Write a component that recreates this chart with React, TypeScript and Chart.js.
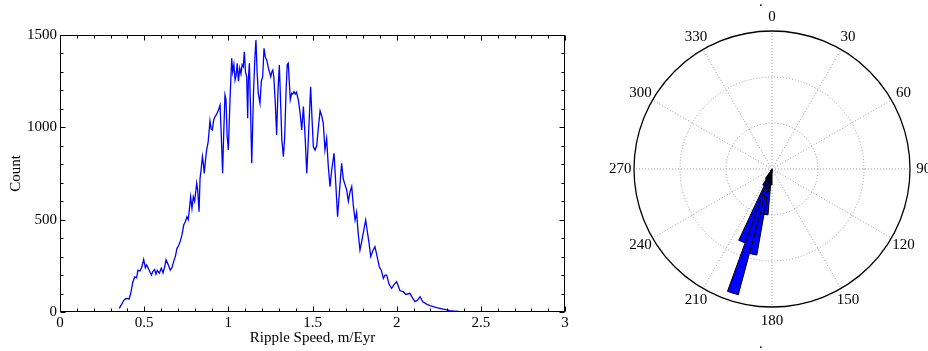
import React, { useEffect, useRef } from 'react';
import { Chart, registerables } from 'chart.js';

Chart.register(...registerables);

const FONT_FAMILY = "'Liberation Serif', 'Times New Roman', serif";

// ---- Left panel: ripple speed histogram (traced points) ----
const SPEED = [
  0.352, 0.365, 0.378, 0.39, 0.398, 0.41, 0.42, 0.432, 0.444, 0.455,
  0.463, 0.475, 0.485, 0.497, 0.507, 0.515, 0.525, 0.535, 0.543, 0.552,
  0.562, 0.57, 0.578, 0.59, 0.602, 0.612, 0.622, 0.63, 0.64, 0.655,
  0.665, 0.675, 0.685, 0.695, 0.705, 0.715, 0.725, 0.735, 0.745, 0.754,
  0.762, 0.768, 0.776, 0.784, 0.792, 0.8, 0.812, 0.818, 0.826, 0.832,
  0.838, 0.846, 0.852, 0.857, 0.864, 0.871, 0.88, 0.891, 0.898, 0.905,
  0.913, 0.921, 0.93, 0.941, 0.951, 0.958, 0.966, 0.972, 0.98, 0.986,
  0.993, 1.0, 1.01, 1.02, 1.026, 1.033, 1.04, 1.046, 1.053, 1.06,
  1.068, 1.075, 1.082, 1.089, 1.095, 1.102, 1.109, 1.115, 1.119, 1.125,
  1.132, 1.139, 1.15, 1.158, 1.164, 1.171, 1.178, 1.188, 1.196, 1.204,
  1.212, 1.22, 1.228, 1.236, 1.244, 1.252, 1.258, 1.264, 1.27, 1.278,
  1.287, 1.295, 1.303, 1.31, 1.318, 1.327, 1.335, 1.343, 1.35, 1.356,
  1.362, 1.368, 1.376, 1.383, 1.39, 1.398, 1.405, 1.416, 1.426, 1.436,
  1.446, 1.456, 1.466, 1.476, 1.489, 1.497, 1.505, 1.515, 1.525, 1.535,
  1.545, 1.555, 1.564, 1.574, 1.584, 1.594, 1.604, 1.614, 1.628, 1.638,
  1.649, 1.66, 1.673, 1.683, 1.693, 1.703, 1.713, 1.723, 1.733, 1.742,
  1.753, 1.762, 1.772, 1.782, 1.792, 1.8, 1.816, 1.825, 1.835, 1.846,
  1.858, 1.871, 1.884, 1.897, 1.909, 1.921, 1.931, 1.941, 1.955, 1.97,
  1.985, 2.0, 2.01, 2.02, 2.039, 2.055, 2.079, 2.095, 2.109, 2.125,
  2.139, 2.155, 2.178, 2.198, 2.218, 2.238, 2.257, 2.277, 2.297, 2.317,
  2.34, 2.37, 2.4, 2.45, 2.5, 2.55, 2.6, 2.65, 2.7, 2.75,
  2.8, 2.85, 2.9,
];
const COUNT = [
  20, 40, 62, 72, 74, 70, 100, 160, 190, 185,
  227, 222, 240, 285, 240, 255, 235, 215, 200, 220,
  230, 205, 225, 210, 238, 212, 245, 282, 262, 227,
  240, 273, 300, 345, 360, 385, 420, 471, 490, 516,
  500, 552, 624, 560, 624, 600, 697, 660, 543, 724,
  769, 841, 800, 751, 820, 877, 920, 1035, 990, 986,
  1040, 1058, 1070, 1094, 1121, 960, 751, 950, 1175, 1150,
  950, 877, 1150, 1374, 1300, 1340, 1256, 1280, 1347, 1250,
  1320, 1290, 1340, 1328, 1409, 1300, 1274, 1049, 1256, 1347,
  1100, 805, 1200, 1380, 1473, 1300, 1184, 1130, 1250, 1274,
  1428, 1380, 1365, 1330, 1300, 1274, 1300, 1310, 1274, 1150,
  958, 1200, 1337, 1150, 930, 841, 950, 1200, 1340, 1347,
  1250, 1150, 1184, 1180, 1193, 1180, 1190, 1148, 1080, 986,
  1112, 950, 751, 950, 1220, 1050, 895, 877, 900, 1000,
  1090, 1060, 1022, 877, 940, 787, 679, 769, 859, 700,
  516, 650, 805, 720, 690, 661, 600, 650, 679, 580,
  498, 540, 420, 336, 380, 420, 498, 440, 380, 300,
  330, 354, 300, 245, 225, 182, 200, 200, 150, 128,
  150, 164, 140, 115, 110, 95, 101, 75, 56, 65,
  83, 55, 43, 35, 29, 24, 20, 15, 11, 7,
  5, 3, 2, 2, 1, 1, 1, 1, 0.5, 0.5,
  0.5, 0.5, 0.5,
];
const X_MAJOR = [0, 0.5, 1, 1.5, 2, 2.5, 3];
const X_LABELS = ['0', '0.5', '1', '1.5', '2', '2.5', '3'];
const X_MINOR_STEP = 0.1;
const Y_MAJOR = [0, 500, 1000, 1500];
const Y_LABELS = ['0', '500', '1000', '1500'];
const Y_MINOR_STEP = 100;

// ---- Right panel: rose diagram of ripple direction (5 degree bins, clockwise from north) ----
const ROSE_BIN_DEG = 5;
const ROSE_COUNTS = [
  0, 0, 0, 0, 0, 0, 0, 0, 0, 0, 0, 0, // 0-60
  0, 0, 0, 0, 0, 0, 0, 0, 0, 0, 0, 0, // 60-120
  0, 0, 0, 0, 0, 0, 0, 0, 0, 0, 0, 0, // 120-180
  3.5, 10, 19, 28.3, 17.1, 4, 2.5, 0, 0, 0, 0, 0, // 180-240
  0, 0, 0, 0, 0, 0, 0, 0, 0, 0, 0, 0, // 240-300
  0, 0, 0, 0, 0, 0, 0, 0, 0, 0, 0, 0, // 300-360
];
const ROSE_MAX = 30;
const ROSE_RING_STEP = 10;
const ANGLE_LABELS = ['0', '30', '60', '90', '120', '150', '180', '210', '240', '270', '300', '330'];
const ANGLE_LABEL_EVERY = 6; // one label per 30 degrees (6 bins)
const ANGLE_LABEL_RADIUS = 1.1; // labels sit at 1.1 x outer ring, centred

const frameTicks = {
  id: 'frameTicks',
  afterDatasetsDraw(chart: any) {
    const { ctx, chartArea: a, scales } = chart;
    const xs = scales.x;
    const ys = scales.y;
    const L = Math.round(a.left) + 0.5;
    const R = Math.round(a.right) - 0.5;
    const T = Math.round(a.top) + 0.5;
    const B = Math.round(a.bottom) - 0.5;
    ctx.save();
    ctx.strokeStyle = '#000';
    ctx.lineWidth = 1;
    const seg = (x1: number, y1: number, x2: number, y2: number) => {
      ctx.beginPath();
      ctx.moveTo(x1, y1);
      ctx.lineTo(x2, y2);
      ctx.stroke();
    };
    const isMajor = (v: number, arr: number[]) => arr.some((m) => Math.abs(m - v) < 1e-6);
    for (let v = xs.min; v <= xs.max + 1e-9; v += X_MINOR_STEP) {
      const len = isMajor(v, X_MAJOR) ? 5 : 3;
      const px = Math.round(xs.getPixelForValue(v)) + 0.5;
      seg(px, B, px, B - len);
      seg(px, T, px, T + len);
    }
    for (let v = ys.min; v <= ys.max + 1e-9; v += Y_MINOR_STEP) {
      const len = isMajor(v, Y_MAJOR) ? 5 : 3;
      const py = Math.round(ys.getPixelForValue(v)) + 0.5;
      seg(L, py, L + len, py);
      seg(R, py, R - len, py);
    }
    ctx.strokeRect(L, T, R - L, B - T);
    ctx.restore();
  },
};

const angleLabels = {
  id: 'angleLabels',
  afterDraw(chart: any) {
    const scale = chart.scales.r;
    const { ctx } = chart;
    ctx.save();
    ctx.fillStyle = '#000';
    ctx.font = `15px ${FONT_FAMILY}`;
    ctx.textAlign = 'center';
    ctx.textBaseline = 'middle';
    const dist = scale.getDistanceFromCenterForValue(scale.max) * ANGLE_LABEL_RADIUS;
    ANGLE_LABELS.forEach((lab, k) => {
      const p = scale.getPointPosition(k * ANGLE_LABEL_EVERY, dist);
      ctx.fillText(lab, p.x, p.y);
    });
    ctx.restore();
  },
};

export default function App() {
  const lineRef = useRef<HTMLCanvasElement | null>(null);
  const roseRef = useRef<HTMLCanvasElement | null>(null);

  useEffect(() => {
    Chart.defaults.font.family = FONT_FAMILY;
    Chart.defaults.font.size = 15;
    Chart.defaults.color = '#000';

    const lineChart = new Chart(lineRef.current as HTMLCanvasElement, {
      type: 'line',
      data: {
        datasets: [
          {
            data: SPEED.map((s, i) => ({ x: s, y: COUNT[i] })),
            borderColor: '#0000ff',
            borderWidth: 1.3,
            pointRadius: 0,
            fill: false,
            tension: 0,
          },
        ],
      },
      options: {
        animation: false,
        responsive: false,
        layout: { padding: { top: 35, right: 35, left: 0, bottom: 0 } },
        plugins: { legend: { display: false }, tooltip: { enabled: false } },
        scales: {
          x: {
            type: 'linear',
            min: 0,
            max: 3,
            afterBuildTicks: (s: any) => {
              s.ticks = X_MAJOR.map((v) => ({ value: v }));
            },
            afterFit: (s: any) => {
              s.height = 39;
            },
            ticks: {
              callback: (_v: any, i: number) => X_LABELS[i],
              padding: 2,
              maxRotation: 0,
              autoSkip: false,
              color: '#000',
            },
            grid: { display: false, drawTicks: false },
            border: { display: false },
            title: {
              display: true,
              text: 'Ripple Speed, m/Eyr',
              color: '#000',
              padding: { top: 0, bottom: 4 },
            },
          },
          y: {
            type: 'linear',
            min: 0,
            max: 1500,
            afterBuildTicks: (s: any) => {
              s.ticks = Y_MAJOR.map((v) => ({ value: v }));
            },
            afterFit: (s: any) => {
              s.width = 60;
            },
            ticks: {
              callback: (_v: any, i: number) => Y_LABELS[i],
              padding: 3,
              autoSkip: false,
              color: '#000',
            },
            grid: { display: false, drawTicks: false },
            border: { display: false },
            title: {
              display: true,
              text: 'Count',
              color: '#000',
              padding: { top: 7, bottom: 0 },
            },
          },
        },
      },
      plugins: [frameTicks],
    } as any);

    const roseChart = new Chart(roseRef.current as HTMLCanvasElement, {
      type: 'polarArea',
      data: {
        labels: ROSE_COUNTS.map((_, i) => String(i * ROSE_BIN_DEG)),
        datasets: [
          {
            data: ROSE_COUNTS,
            backgroundColor: '#0000ff',
            borderColor: '#000',
            borderWidth: 1,
          },
        ],
      },
      options: {
        animation: false,
        responsive: false,
        layout: { padding: { top: 31, bottom: 44, left: 37, right: 31 } },
        plugins: { legend: { display: false }, tooltip: { enabled: false } },
        scales: {
          r: {
            min: 0,
            max: ROSE_MAX,
            startAngle: 0,
            ticks: { display: false, stepSize: ROSE_RING_STEP },
            grid: {
              circular: true,
              color: (c: any) => (c.tick && c.tick.value >= ROSE_MAX ? '#000' : '#9a9a9a'),
              lineWidth: (c: any) => (c.tick && c.tick.value >= ROSE_MAX ? 1.3 : 1),
            },
            border: {
              dash: (c: any) => (c.tick && c.tick.value >= ROSE_MAX ? [] : [1, 2]),
            },
            angleLines: {
              display: true,
              color: '#9a9a9a',
              lineWidth: (c: any) => (c.index % ANGLE_LABEL_EVERY === 0 ? 1 : 0),
              borderDash: [1, 2],
            },
            pointLabels: { display: false },
          },
        },
      },
      plugins: [angleLabels],
    } as any);

    return () => {
      lineChart.destroy();
      roseChart.destroy();
    };
  }, []);

  const dotStyle: React.CSSProperties = {
    position: 'absolute',
    left: 759,
    font: `15px ${FONT_FAMILY}`,
    lineHeight: '15px',
    color: '#000',
  };

  return (
    <div
      style={{
        position: 'absolute',
        left: 0,
        top: 0,
        width: 928,
        height: 351,
        overflow: 'hidden',
        background: '#fff',
      }}
    >
      <canvas
        ref={lineRef}
        width={600}
        height={351}
        style={{ position: 'absolute', left: 0, top: 0, display: 'block' }}
      />
      <canvas
        ref={roseRef}
        width={344}
        height={351}
        style={{ position: 'absolute', left: 597, top: 0, display: 'block' }}
      />
      <span style={{ ...dotStyle, top: -6 }}>.</span>
      <span style={{ ...dotStyle, top: 336 }}>.</span>
    </div>
  );
}
